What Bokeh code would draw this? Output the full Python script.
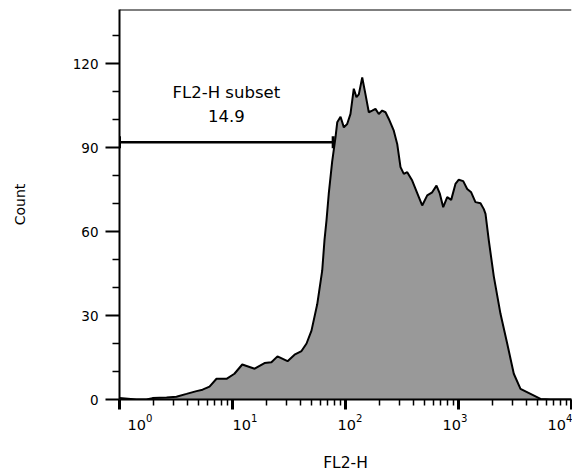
import numpy as np
from bokeh.plotting import figure
from bokeh.models import FixedTicker, Span, Range1d, LogAxis, LogScale
from bokeh.core.properties import value
from bokeh.embed import file_html
from bokeh.resources import INLINE

# ---- data ----
fl2h = [1.0, 1.41, 1.73, 1.96, 2.61, 3.19, 3.92, 4.80, 5.43, 6.26,
        7.22, 8.85, 10.4, 12.2, 15.7, 19.2, 22.1, 25.0, 30.7, 35.4,
        40.8, 45.2, 50.0, 56.2, 62.2, 65.2, 67.9, 71.1, 76.2, 81.6,
        84.5, 90.4, 96.7, 103.5, 110.7, 118.4, 125.0, 131.2, 140.6, 150.3,
        160.8, 172.2, 184.1, 197.1, 211.3, 226.0, 241.7, 267.5, 286.8, 306.8,
        328.2, 351.9, 389.3, 445.6, 477.3, 528.6, 585.0, 638.6, 683.6, 732.4,
        794.7, 861.5, 939.7, 1006, 1101, 1194, 1295, 1413, 1566, 1675,
        1734, 1854, 2053, 2353, 2700, 3086, 3537, 4339, 5320, 6516, 10000]
counts = [0.5, 0.0, 0.0, 0.5, 0.7, 1.0, 2.0, 3.0, 3.5, 4.6,
          7.4, 7.4, 9.2, 12.5, 11.0, 13.0, 13.3, 15.4, 13.7, 16.0,
          17.3, 20.0, 24.6, 34.0, 46.0, 57.0, 64.0, 73.5, 85.0, 93.7,
          99.0, 101.0, 97.2, 98.4, 102.0, 111.0, 108.0, 109.0, 115.0, 109.0,
          102.6, 103.2, 103.8, 102.0, 103.2, 102.6, 100.2, 96.0, 91.3, 83.0,
          80.6, 81.2, 78.2, 72.3, 69.3, 72.9, 74.0, 76.4, 73.5, 68.7,
          72.3, 71.3, 77.0, 78.5, 78.0, 75.2, 74.0, 70.5, 70.1, 68.0,
          66.3, 56.8, 44.0, 30.6, 19.9, 9.2, 3.8, 2.0, 0.2, 0.0, 0.0]

x_major_ticks = [1, 10, 100, 1000, 10000]
x_minor_ticks = [k * 10 ** d for d in range(4) for k in range(2, 10)]
y_major_ticks = [0, 30, 60, 90, 120]
y_minor_ticks = [10, 20, 40, 50, 70, 80, 100, 110, 130]

gate_low = 1.0
gate_high = 77.8
gate_y = 91.9
gate_name = "FL2-H subset"
gate_pct = "14.9"

x_lo, x_hi = 1, 10000
y_lo, y_hi = 0, 139.3

FONT = "DejaVu Sans"

# layout
W, H = 572, 475
BORDER_L, BORDER_R, BORDER_T, BORDER_B = 119, 1, 9, 76
FRAME_W = W - BORDER_L - BORDER_R

p = figure(width=W, height=H, x_axis_type="log",
           x_range=Range1d(x_lo, x_hi), y_range=Range1d(y_lo, y_hi),
           output_backend="svg", toolbar_location=None,
           min_border_left=BORDER_L, min_border_right=BORDER_R,
           min_border_top=BORDER_T, min_border_bottom=BORDER_B)
p.outline_line_color = None
p.grid.visible = False
p.background_fill_color = "white"
p.border_fill_color = "white"

# histogram
p.varea(x=fl2h, y1=0, y2=counts, fill_color="#999999")
p.line(fl2h, counts, line_color="black", line_width=2)

# gate
p.segment(x0=[gate_low], y0=[gate_y], x1=[gate_high], y1=[gate_y],
          line_color="black", line_width=2.5)
p.scatter(x=[gate_low, gate_high], y=[gate_y, gate_y], marker="dash",
          size=12, angle=np.pi / 2, line_color="black", line_width=3)
p.text(x=[np.sqrt(gate_low * gate_high)], y=[gate_y],
       text=[gate_name + "\n" + gate_pct],
       text_align="center", text_baseline="bottom", y_offset=-16,
       text_font=value(FONT), text_font_size="16.5px", text_line_height=1.25,
       text_color="black")

# top border
p.add_layout(Span(location=y_hi, dimension="width", line_color="black", line_width=2))

# y axis
ya = p.yaxis[0]
ya.ticker = FixedTicker(ticks=y_major_ticks, minor_ticks=y_minor_ticks)
ya.axis_line_width = 2
ya.major_tick_out = 14
ya.major_tick_in = 0
ya.minor_tick_out = 7
ya.minor_tick_in = 0
ya.major_tick_line_width = 2
ya.minor_tick_line_width = 1.5
ya.major_label_standoff = 7
ya.major_label_text_font = FONT
ya.major_label_text_font_size = "13.5px"
ya.major_label_text_color = "black"
ya.axis_label = "Count"
ya.axis_label_text_font = FONT
ya.axis_label_text_font_size = "14px"
ya.axis_label_text_font_style = "normal"
ya.axis_label_text_color = "black"
ya.axis_label_standoff = 42

# x axis: ticks only
xa = p.xaxis[0]
xa.ticker = FixedTicker(ticks=x_major_ticks, minor_ticks=x_minor_ticks)
xa.axis_line_width = 2
xa.major_tick_out = 10
xa.major_tick_in = 0
xa.minor_tick_out = 6
xa.minor_tick_in = 0
xa.major_tick_line_width = 3
xa.minor_tick_line_width = 1.5
xa.major_label_overrides = {t: " " for t in x_major_ticks}
xa.major_label_text_font_size = "1px"
xa.major_label_standoff = 0

# second x axis carrying the 10^k labels (FlowJo places them right of the ticks)
label_first_px = 20.5   # first label centre, px right of the frame's left edge
label_decade_px = 105.0  # spacing of the labels, px per decade
lo_exp = -label_first_px / label_decade_px
hi_exp = lo_exp + FRAME_W / label_decade_px
p.extra_x_ranges = {"labels": Range1d(10 ** lo_exp, 10 ** hi_exp)}
p.extra_x_scales = {"labels": LogScale()}
xb = LogAxis(x_range_name="labels", ticker=FixedTicker(ticks=x_major_ticks))
xb.axis_line_color = None
xb.major_tick_line_color = None
xb.minor_tick_line_color = None
xb.major_tick_out = 0
xb.major_tick_in = 0
xb.minor_tick_out = 0
xb.minor_tick_in = 0
xb.major_label_standoff = 0
xb.major_label_text_font = FONT
xb.major_label_text_font_size = "14.5px"
xb.major_label_text_color = "black"
xb.axis_label = "FL2-H"
xb.axis_label_text_font = FONT
xb.axis_label_text_font_size = "15.5px"
xb.axis_label_text_font_style = "normal"
xb.axis_label_text_color = "black"
xb.axis_label_standoff = 21
p.add_layout(xb, "below")

open("out.html", "w").write(file_html(p, INLINE))
